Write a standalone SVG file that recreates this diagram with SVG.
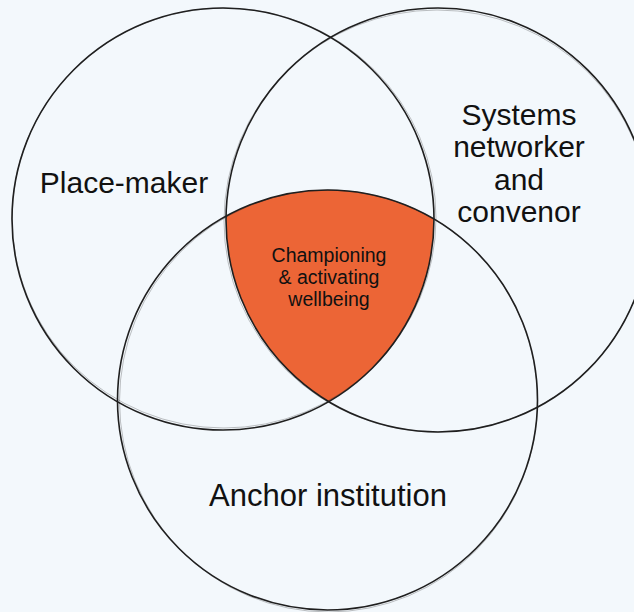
<svg xmlns="http://www.w3.org/2000/svg" width="634" height="612" viewBox="0 0 634 612">
  <style>
    .ring { fill: none; stroke: #1f1f1f; stroke-width: 1.6; }
    .sketch { fill: none; stroke: #1f1f1f; stroke-width: 0.8; opacity: 0.35; }
    .big { font-family: "Liberation Sans", Arial, sans-serif; font-size: 30px; fill: #111; text-anchor: middle; }
    .small { font-family: "Liberation Sans", Arial, sans-serif; font-size: 19.5px; fill: #111; text-anchor: middle; }
  </style>
  <defs>
    <clipPath id="clipLeft"><circle cx="223" cy="219" r="211"/></clipPath>
    <clipPath id="clipRight"><circle cx="438" cy="220" r="212"/></clipPath>
  </defs>
  <rect width="634" height="612" fill="#f3f8fc"/>

  <g id="core">
    <g clip-path="url(#clipLeft)">
      <g clip-path="url(#clipRight)">
        <circle cx="327.5" cy="400" r="210" fill="#ec6536"/>
      </g>
    </g>
    <text class="small" x="329" y="262">Championing</text>
    <text class="small" x="329" y="284">&amp; activating</text>
    <text class="small" x="329" y="306">wellbeing</text>
  </g>

  <g id="place-maker">
    <circle class="ring" cx="223" cy="219" r="211"/>
    <ellipse class="sketch" cx="224" cy="218" rx="212" ry="210"/>
    <text class="big" x="124" y="193">Place-maker</text>
  </g>

  <g id="systems-networker">
    <circle class="ring" cx="438" cy="220" r="212"/>
    <ellipse class="sketch" cx="437" cy="221" rx="213" ry="211"/>
    <text class="big" x="519" y="125">Systems</text>
    <text class="big" x="519" y="157">networker</text>
    <text class="big" x="519" y="190">and</text>
    <text class="big" x="519" y="222">convenor</text>
  </g>

  <g id="anchor-institution">
    <circle class="ring" cx="327.5" cy="400" r="210"/>
    <ellipse class="sketch" cx="328.5" cy="401" rx="209" ry="211"/>
    <text class="big" x="328" y="506" style="font-size:31px">Anchor institution</text>
  </g>
</svg>
